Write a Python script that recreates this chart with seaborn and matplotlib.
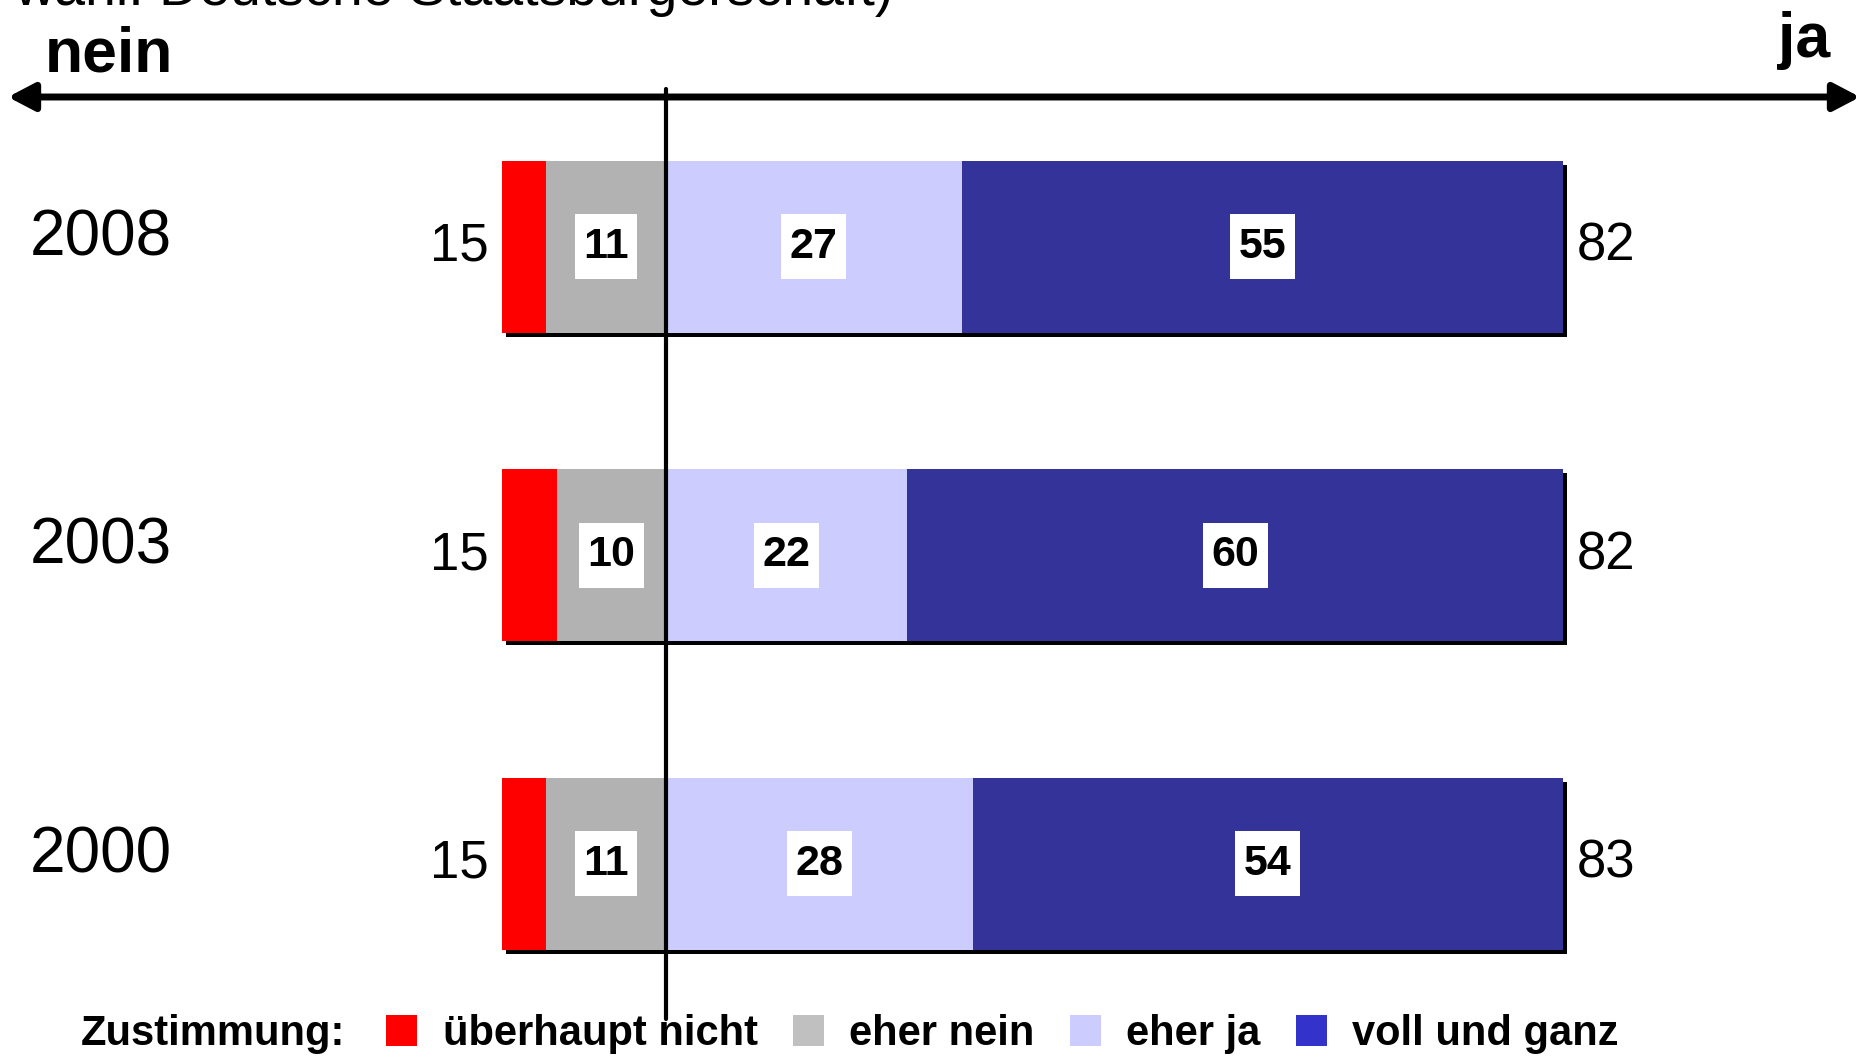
import matplotlib
matplotlib.use("Agg")
import matplotlib.pyplot as plt
import matplotlib.patheffects as pe
from matplotlib.patches import Patch
import numpy as np
import pandas as pd
import seaborn as sns

# data
years = ["2008", "2003", "2000"]
ueberhaupt_nicht = [4, 5, 4]
eher_nein = [11, 10, 11]
eher_ja = [27, 22, 28]
voll_und_ganz = [55, 60, 54]
sum_nein = [15, 15, 15]
sum_ja = [82, 82, 83]

legend_labels = ["überhaupt nicht", "eher nein", "eher ja", "voll und ganz"]
bar_colors = ["#FF0000", "#B2B2B2", "#CCCCFF", "#333399"]
legend_colors = ["#FF0000", "#C0C0C0", "#CCCCFF", "#3333CC"]

W, H = 1863, 1058
FONT = ["Liberation Sans", "DejaVu Sans"]

sns.set_style("white")
plt.rcParams["font.family"] = FONT
plt.rcParams["text.color"] = "black"

fig = plt.figure(figsize=(W / 100, H / 100), dpi=100)
ax = fig.add_axes([0, 0, 1, 1])

un = np.array(ueberhaupt_nicht)
en = np.array(eher_nein)
ej = np.array(eher_ja)
vg = np.array(voll_und_ganz)

df = pd.DataFrame({"Jahr": years, "un": un, "en": en, "ej": ej, "vg": vg,
                   "total": un + en + ej + vg})

bw = 0.558
common = dict(data=df, y="Jahr", order=years, orient="y", width=bw,
              errorbar=None, linewidth=0, saturation=1, ax=ax)

# drop shadow under every bar (only the shadow gets drawn)
sns.barplot(x="total", left=-(un + en), color="white",
            path_effects=[pe.SimplePatchShadow(offset=(3, -3), shadow_rgbFace="black", alpha=1.0)],
            **common)
# stacked segments
sns.barplot(x="un", left=-(un + en), color=bar_colors[0], **common)
sns.barplot(x="en", left=-en, color=bar_colors[1], **common)
sns.barplot(x="ej", left=np.zeros(len(years)), color=bar_colors[2], **common)
sns.barplot(x="vg", left=ej, color=bar_colors[3], **common)

for cont, vals in zip(ax.containers[2:], [eher_nein, eher_ja, voll_und_ganz]):
    ax.bar_label(cont, labels=[str(v) for v in vals], label_type="center",
                 fontsize=31, fontweight="bold", color="black",
                 bbox=dict(boxstyle="square,pad=0.2", fc="white", ec="none",
                           mutation_aspect=1.45))

# totals left and right of the bars
for i, (n, j) in enumerate(zip(sum_nein, sum_ja)):
    ax.annotate(str(n), xy=(-(un[i] + en[i]), i), xytext=(-9.5, 0), textcoords="offset points",
                ha="right", va="center", fontsize=38)
    ax.annotate(str(j), xy=(ej[i] + vg[i], i), xytext=(9.5, 0), textcoords="offset points",
                ha="left", va="center", fontsize=38)
    ax.annotate(years[i], xy=(30 / W, i), xycoords=("axes fraction", "data"),
                xytext=(0, 6), textcoords="offset points",
                ha="left", va="center", fontsize=46)

ax.set_xlim(-60.9, 109.4)
ax.set_ylim(2.63, -0.80)
ax.axis("off")

# nein <-> ja axis
ax.annotate("", xy=(1860 / W, 1 - 97 / H), xytext=(8 / W, 1 - 97 / H),
            xycoords="axes fraction",
            arrowprops=dict(arrowstyle="<|-|>,head_length=0.8,head_width=0.42",
                            lw=5, color="black", shrinkA=0, shrinkB=0, mutation_scale=20))
ax.axvline(0, ymin=1 - 1019 / H, ymax=1 - 89 / H, color="black", lw=3, zorder=6)

fig.text(45 / W, 1 - 71 / H, "nein", fontsize=45, fontweight="bold", va="baseline", ha="left")
fig.text(1830 / W, 1 - 57 / H, "ja", fontsize=45, fontweight="bold", va="baseline", ha="right")
fig.text(893 / W, 1 - 5 / H, "wahl. Deutsche Staatsbürgerschaft)", fontsize=40,
         va="baseline", ha="right")

# legend
fig.text(81 / W, 13 / H, "Zustimmung:", fontsize=30, fontweight="bold", va="baseline", ha="left")
handles = [Patch(facecolor=c, edgecolor="none") for c in legend_colors]
fig.legend(handles, legend_labels, loc="lower left", bbox_to_anchor=(386 / W, 4 / H),
           ncol=4, frameon=False, borderpad=0, borderaxespad=0,
           prop=dict(family=FONT, size=30, weight="bold"),
           handlelength=0.74, handleheight=0.75, handletextpad=0.62, columnspacing=0.84)

fig.savefig("out.png", dpi=100)
